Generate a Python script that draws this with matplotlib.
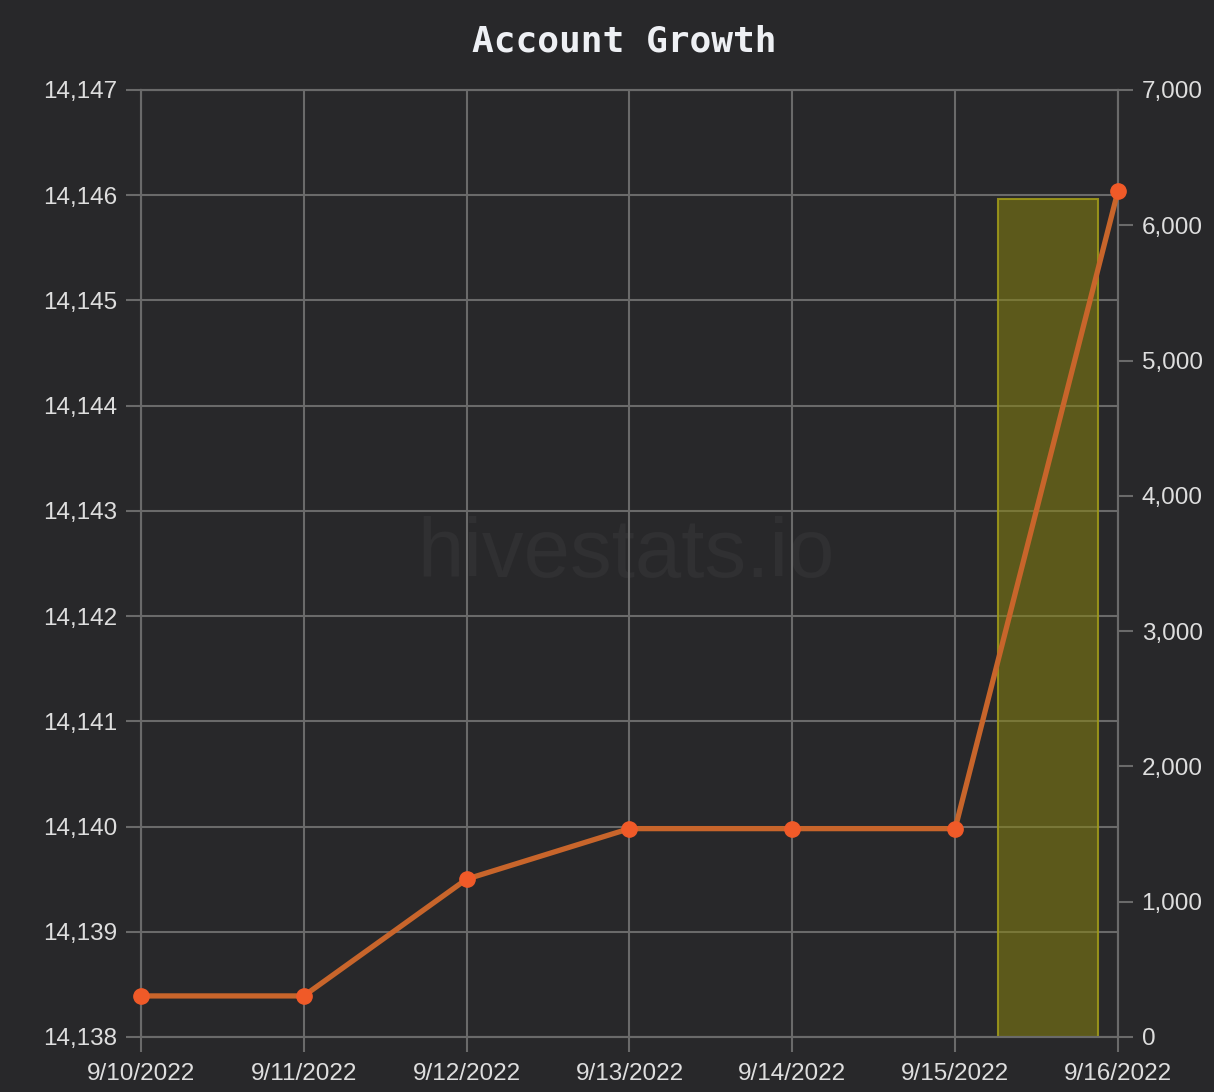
import matplotlib
matplotlib.use("Agg")
import matplotlib.pyplot as plt
from matplotlib.ticker import FuncFormatter, MultipleLocator

# ---- data ----
dates = ["9/10/2022", "9/11/2022", "9/12/2022", "9/13/2022", "9/14/2022", "9/15/2022", "9/16/2022"]
accounts = [14138.39, 14138.39, 14139.50, 14139.98, 14139.98, 14139.98, 14146.04]
bar_dates = ["9/16/2022"]
bar_values = [6194]

# ---- style ----
BG = "#28282a"
GRID = "#6a6a6a"
TEXT = "#dedede"
LINE = "#c8652b"
MARK = "#f05a28"
bar_offset = -0.43
bar_width = 0.61
POS = [0.1161, 0.0504, 0.8048, 0.8672]

fig = plt.figure(figsize=(12.14, 10.92), dpi=100, facecolor=BG)
ax = fig.add_axes(POS, facecolor=BG)
ax2 = ax.twinx()

x = list(range(len(dates)))
ax.set_xlim(0, len(dates) - 1)
ax.set_ylim(14138, 14147)
ax2.set_ylim(0, 7000)

# grid
ax.set_axisbelow(True)
ax.grid(True, color=GRID, linewidth=1.5)
ax.set_xticks(x)
ax.set_xticklabels(dates)
ax.yaxis.set_major_locator(MultipleLocator(1))
ax.yaxis.set_major_formatter(FuncFormatter(lambda v, p: f"{v:,.0f}"))
ax2.yaxis.set_major_locator(MultipleLocator(1000))
ax2.yaxis.set_major_formatter(FuncFormatter(lambda v, p: f"{v:,.0f}"))

for a in (ax, ax2):
    for s in a.spines.values():
        s.set_color(GRID)
        s.set_linewidth(1.5)
    a.tick_params(colors=TEXT, labelsize=17.5, length=11, width=1.5, pad=6)
    a.tick_params(axis="both", color=GRID)
    for lbl in a.get_xticklabels() + a.get_yticklabels():
        lbl.set_fontfamily("Liberation Sans")
        lbl.set_color(TEXT)
ax.tick_params(axis="x", pad=8)

# bars on right axis
bx = [dates.index(d) + bar_offset for d in bar_dates]
ax2.bar(bx, bar_values, width=bar_width, color=(0.53, 0.51, 0.06, 0.55),
        edgecolor=(0.62, 0.6, 0.1, 0.9), linewidth=1.5, zorder=2)

# line on left axis (drawn above bars) in an overlay axes
ax3 = fig.add_axes(POS, frameon=False)
ax3.set_xlim(ax.get_xlim())
ax3.set_ylim(ax.get_ylim())
ax3.set_xticks([])
ax3.set_yticks([])
ax3.patch.set_visible(False)
ax3.plot(x, accounts, color=LINE, linewidth=3.8, marker="o", markersize=11,
         markerfacecolor=MARK, markeredgecolor=MARK, zorder=3, clip_on=False)

# watermark
ax.text(0.496, 0.509, "hivestats.io", transform=ax.transAxes, ha="center", va="center",
        fontsize=60, color="#303032", fontfamily="Liberation Sans", zorder=0)

fig.text(0.514, 0.962, "Account Growth", ha="center", va="center", fontsize=26,
         fontweight="bold", fontfamily="DejaVu Sans Mono", color="#eef0f4")

fig.savefig("out.png", dpi=100, facecolor=BG)
